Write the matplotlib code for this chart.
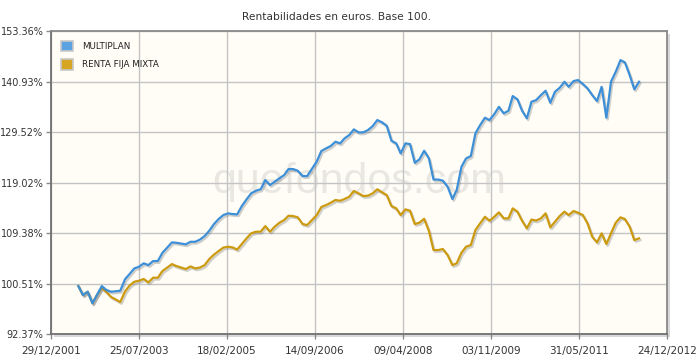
import matplotlib
matplotlib.use("Agg")
import matplotlib.pyplot as plt
import matplotlib.patheffects as pe
from matplotlib.patches import Rectangle
import pandas as pd

title = "Rentabilidades en euros. Base 100."
series_names = ["MULTIPLAN", "RENTA FIJA MIXTA"]

# monthly observations, June 2002 .. June 2012
first_month = "2002-06"
last_month = "2012-06"

multiplan = [
    100.08, 98.59, 99.14, 97.24, 98.64, 100.08, 99.42, 99.14, 99.22, 99.30,
    101.22, 102.12, 103.09, 103.37, 103.96, 103.66, 104.36, 104.36, 105.82, 106.74,
    107.67, 107.60, 107.46, 107.32, 107.78, 107.78, 108.17, 108.82, 109.79, 111.03,
    111.96, 112.71, 113.03, 112.90, 112.84, 114.42, 115.71, 116.88, 117.39, 117.67,
    119.51, 118.51, 119.17, 119.85, 120.51, 121.72, 121.72, 121.38, 120.31, 120.31,
    121.77, 123.26, 125.45, 126.02, 126.50, 127.42, 127.07, 128.14, 128.85, 130.08,
    129.43, 129.43, 129.93, 130.81, 132.13, 131.62, 130.88, 127.63, 127.07, 124.96,
    127.07, 126.92, 123.01, 123.72, 125.51, 123.92, 119.61, 119.61, 119.39, 118.17,
    115.77, 117.53, 122.19, 123.92, 124.40, 129.22, 131.03, 132.64, 132.13, 133.46,
    135.09, 133.62, 134.20, 137.54, 136.78, 134.20, 132.51, 136.24, 136.62, 137.77,
    138.77, 136.00, 138.53, 139.46, 140.87, 139.69, 141.03, 141.27, 140.33, 139.33,
    137.77, 136.39, 139.69, 132.64, 140.87, 143.24, 146.07, 145.51, 142.45, 139.09,
    140.87,
]

renta_fija_mixta = [
    100.08, 98.59, 99.14, 97.24, 98.59, 99.75, 99.09, 98.26, 97.85, 97.44,
    99.17, 100.17, 100.81, 100.98, 101.27, 100.70, 101.49, 101.49, 102.63, 103.23,
    103.83, 103.49, 103.23, 102.97, 103.43, 103.09, 103.23, 103.66, 104.71, 105.50,
    106.12, 106.74, 106.89, 106.78, 106.39, 107.37, 108.40, 109.31, 109.61, 109.61,
    110.65, 109.61, 110.53, 111.27, 111.77, 112.58, 112.52, 112.28, 111.03, 110.84,
    111.77, 112.71, 114.23, 114.61, 115.06, 115.58, 115.45, 115.77, 116.22, 117.33,
    116.88, 116.36, 116.42, 116.88, 117.67, 117.08, 116.55, 114.42, 113.98, 112.71,
    113.79, 113.53, 111.03, 111.27, 112.01, 109.74, 106.30, 106.30, 106.48, 105.41,
    103.66, 103.96, 105.82, 106.89, 107.19, 109.92, 111.16, 112.39, 111.64, 112.39,
    113.22, 112.09, 112.09, 113.98, 113.34, 111.64, 110.23, 111.86, 111.68, 112.09,
    113.03, 110.41, 111.45, 112.52, 113.34, 112.71, 113.47, 113.15, 112.71, 111.16,
    108.69, 107.67, 109.31, 107.37, 109.31, 111.27, 112.28, 111.96, 110.53, 108.09,
    108.40,
]

y_ticks = [92.37, 100.51, 109.38, 119.02, 129.52, 140.93, 153.36]
x_tick_labels = ["29/12/2001", "25/07/2003", "18/02/2005", "14/09/2006",
                 "09/04/2008", "03/11/2009", "31/05/2011", "24/12/2012"]

colors = ["#3d8fd8", "#cc9a0e"]
legend_colors = ["#5aa2e0", "#d6a523"]

dates = pd.date_range(first_month, last_month, freq="MS") + pd.Timedelta(days=24)
x_ticks = pd.to_datetime(x_tick_labels, format="%d/%m/%Y")

fig = plt.figure(figsize=(7.0, 3.62), dpi=100)
fig.patch.set_facecolor("white")
ax = fig.add_axes([51/700, 1-334/362, 616/700, 303/362])
ax.set_facecolor("#fffdf6")

# frame shadow
shadow = Rectangle((51/700 + 3/700, 1-334/362 - 3/362), 616/700, 303/362,
                   transform=fig.transFigure, facecolor="#d8d8d8", edgecolor="none",
                   zorder=-5)
fig.patches.append(shadow)

ax.set_yscale("log")
ax.set_ylim(y_ticks[0], y_ticks[-1])
ax.set_xlim(x_ticks[0], x_ticks[-1])
ax.set_yticks(y_ticks)
ax.set_yticklabels([f"{v:.2f}%" for v in y_ticks])
ax.yaxis.set_minor_locator(matplotlib.ticker.NullLocator())
ax.set_xticks(x_ticks)
ax.set_xticklabels(x_tick_labels)

ax.grid(True, color="#c4c4c4", linewidth=1.0)
ax.set_axisbelow(True)
for s in ax.spines.values():
    s.set_color("#8a8a8a")
    s.set_linewidth(1.3)
ax.spines["left"].set_color("#707070")
ax.spines["bottom"].set_color("#707070")
ax.tick_params(axis="both", colors="#8a8a8a", labelcolor="#333333",
               length=3.5, width=1)
ax.tick_params(axis="x", pad=5, labelsize=7.5)
ax.tick_params(axis="y", pad=2, labelsize=7)

ax.text(0.5, 0.5, "quefondos.com", transform=ax.transAxes, ha="center",
        va="center", fontsize=31, family="Liberation Sans",
        color="#e9e7e1", zorder=0.5)

for vals, col in zip([renta_fija_mixta, multiplan], colors[::-1]):
    ax.plot(dates, vals, color=col, linewidth=1.6, zorder=3,
            path_effects=[pe.SimpleLineShadow(offset=(1.0, -1.3),
                                              shadow_color="#777777", alpha=0.35),
                          pe.Normal()])

handles = [Rectangle((0, 0), 1, 1, facecolor=c, edgecolor="#c8c8c8", linewidth=1.2)
           for c in legend_colors]
leg = ax.legend(handles, series_names, loc="upper left", frameon=False,
                fontsize=6.3, handlelength=1.4, handleheight=1.4,
                handletextpad=1.1, labelspacing=1.0, borderaxespad=0.7)
for t in leg.get_texts():
    t.set_color("#222222")

fig.text(337/700, 1-17/362, title, ha="center", va="center", fontsize=7.7,
         color="#333333")

fig.savefig("out.png", dpi=100)
